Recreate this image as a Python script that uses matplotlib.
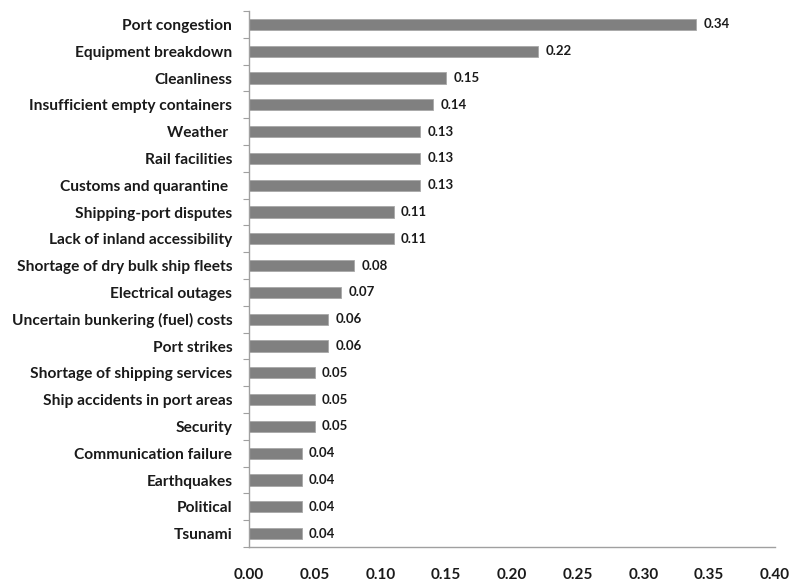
import numpy as np
import matplotlib.pyplot as plt

categories = [
    "Port congestion",
    "Equipment breakdown",
    "Cleanliness",
    "Insufficient empty containers",
    "Weather ",
    "Rail facilities",
    "Customs and quarantine ",
    "Shipping-port disputes",
    "Lack of inland accessibility",
    "Shortage of dry bulk ship fleets",
    "Electrical outages",
    "Uncertain bunkering (fuel) costs",
    "Port strikes",
    "Shortage of shipping services",
    "Ship accidents in port areas",
    "Security",
    "Communication failure",
    "Earthquakes",
    "Political",
    "Tsunami",
]
values = [0.34, 0.22, 0.15, 0.14, 0.13, 0.13, 0.13, 0.11, 0.11, 0.08,
          0.07, 0.06, 0.06, 0.05, 0.05, 0.05, 0.04, 0.04, 0.04, 0.04]
xticks = [0.00, 0.05, 0.10, 0.15, 0.20, 0.25, 0.30, 0.35, 0.40]

plt.rcParams["font.family"] = ["Lato", "DejaVu Sans"]

fig = plt.figure(figsize=(7.92, 5.83), dpi=100)
ax = fig.add_axes([0.3144, 0.0617, 0.6641, 0.9193])

y = np.arange(len(categories))
ax.barh(y, values, height=0.42, color="#808080", edgecolor="#a8a8a8", linewidth=0.6)

for yi, v in zip(y, values):
    ax.text(v + 0.0055, yi, f"{v:.2f}", va="center", ha="left",
            fontsize=9.5, fontweight="bold", color="#1a1a1a")

ax.set_ylim(len(categories) - 0.5, -0.5)
ax.set_xlim(0, 0.40)

ax.set_yticks(y)
ax.set_yticklabels(categories, fontsize=11.2, fontweight="bold", color="#1a1a1a")
ax.set_yticks(np.arange(-0.5, len(categories), 1), minor=True)
ax.tick_params(axis="y", which="major", length=0, pad=12)
ax.tick_params(axis="y", which="minor", length=4, color="#a0a0a0", width=0.8)

ax.set_xticks(xticks)
ax.set_xticklabels([f"{t:.2f}" for t in xticks], fontsize=11, fontweight="bold", color="#1a1a1a")
ax.tick_params(axis="x", length=0, pad=15)

for side in ["top", "right"]:
    ax.spines[side].set_visible(False)
for side in ["left", "bottom"]:
    ax.spines[side].set_color("#a0a0a0")
    ax.spines[side].set_linewidth(1.0)

plt.savefig("out.png", dpi=100)
